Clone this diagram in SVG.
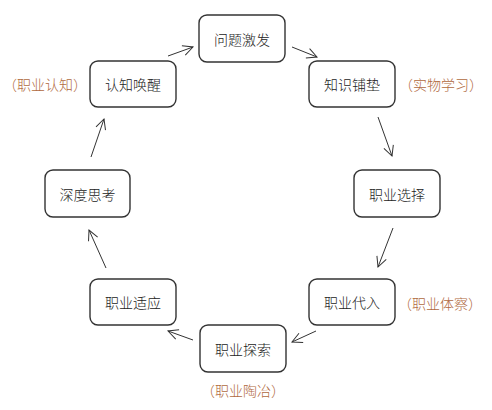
<svg xmlns="http://www.w3.org/2000/svg" width="492" height="410" viewBox="0 0 492 410">
<style>
.box{fill:#fff;stroke:#333;stroke-width:1.4}
.t{font-family:"Noto Sans CJK SC","Noto Sans",sans-serif;font-size:14px;fill:#222;text-anchor:middle;dominant-baseline:central;font-weight:300}
.n{font-family:"Noto Sans CJK SC","Noto Sans",sans-serif;font-size:14px;fill:#b0693e;text-anchor:middle;dominant-baseline:central;font-weight:300}
.c{stroke:#333;stroke-width:1;fill:none;marker-end:url(#a)}
</style>
<defs>
<marker id="a" viewBox="0 0 12 12" refX="11" refY="6" markerWidth="12" markerHeight="12" markerUnits="userSpaceOnUse" orient="auto">
<path d="M1,1 L11,6 L1,11" fill="none" stroke="#333" stroke-width="1"/>
</marker>
</defs>
<rect width="492" height="410" fill="#fff"/>
<g id="connectors">
<line class="c" x1="168" y1="56" x2="193" y2="47"/>
<line class="c" x1="292" y1="47" x2="317" y2="57"/>
<line class="c" x1="378" y1="117" x2="392" y2="156"/>
<line class="c" x1="393" y1="228" x2="378" y2="267"/>
<line class="c" x1="316" y1="331" x2="292" y2="342"/>
<line class="c" x1="193" y1="340" x2="168" y2="331"/>
<line class="c" x1="106" y1="268" x2="89" y2="230"/>
<line class="c" x1="91" y1="157" x2="104" y2="119"/>
</g>
<g id="n1"><rect class="box" x="199" y="15" width="86" height="47" rx="8"/><text class="t" x="242" y="38.5">问题激发</text></g>
<g id="n2"><rect class="box" x="309" y="61" width="86" height="46" rx="8"/><text class="t" x="352" y="84">知识铺垫</text></g>
<g id="n3"><rect class="box" x="354" y="170" width="86" height="47" rx="8"/><text class="t" x="397" y="193.5">职业选择</text></g>
<g id="n4"><rect class="box" x="309" y="279" width="86" height="46" rx="8"/><text class="t" x="352" y="302">职业代入</text></g>
<g id="n5"><rect class="box" x="200" y="325" width="86" height="47" rx="8"/><text class="t" x="243" y="348.5">职业探索</text></g>
<g id="n6"><rect class="box" x="90" y="279" width="86" height="46" rx="8"/><text class="t" x="133" y="302">职业适应</text></g>
<g id="n7"><rect class="box" x="45" y="170" width="85" height="47" rx="8"/><text class="t" x="87.5" y="193.5">深度思考</text></g>
<g id="n8"><rect class="box" x="90" y="61" width="86" height="46" rx="8"/><text class="t" x="133" y="84">认知唤醒</text></g>
<g id="notes">
<text class="n" x="45" y="84">（职业认知）</text>
<text class="n" x="441" y="84">（实物学习）</text>
<text class="n" x="440" y="303">（职业体察）</text>
<text class="n" x="243" y="390">（职业陶冶）</text>
</g>
</svg>
